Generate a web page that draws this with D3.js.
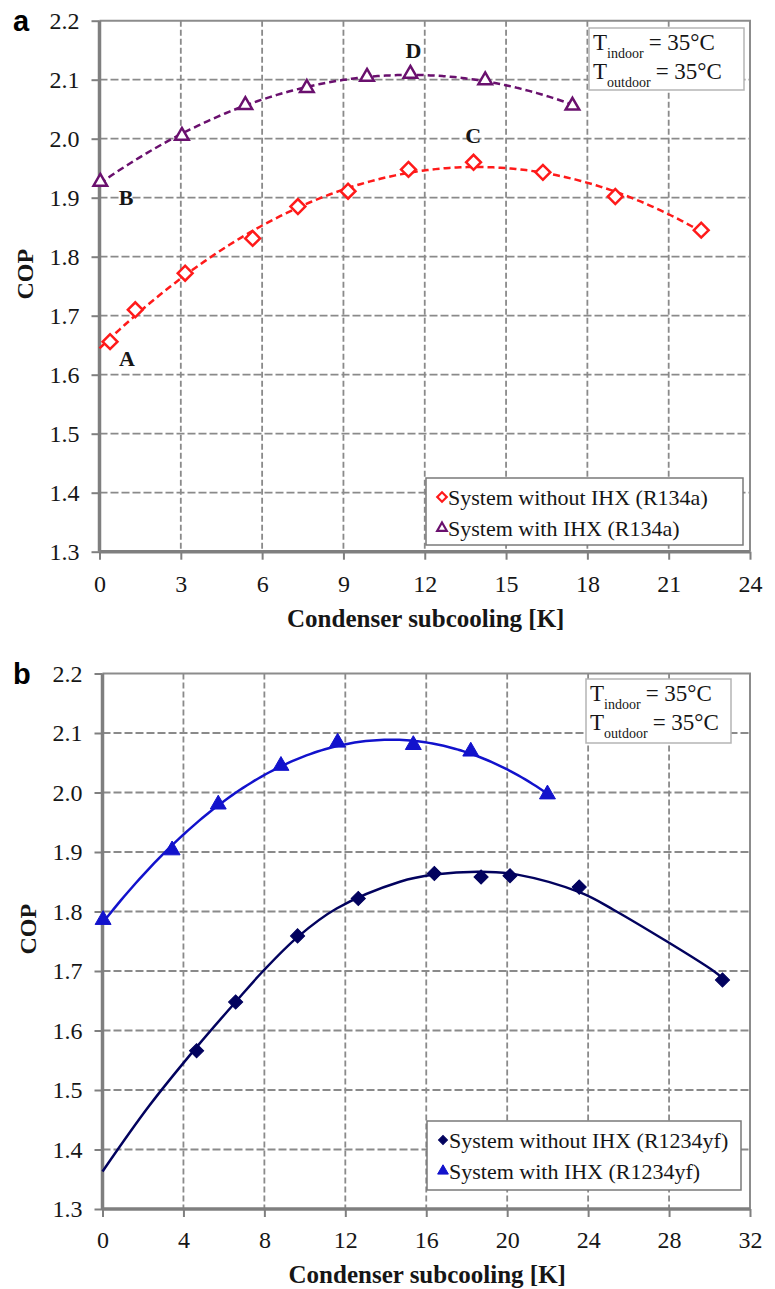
<!DOCTYPE html>
<html><head><meta charset="utf-8">
<script src="https://cdn.jsdelivr.net/npm/d3@7/dist/d3.min.js"></script>
<style>
body{margin:0;background:#fff}
svg{display:block}
</style>
</head><body>
<svg id="c" width="775" height="1289"></svg>
<script>
// ---------- data ----------
const yTicks = [1.3, 1.4, 1.5, 1.6, 1.7, 1.8, 1.9, 2.0, 2.1, 2.2];
const xTicksA = [0, 3, 6, 9, 12, 15, 18, 21, 24];
const xTicksB = [0, 4, 8, 12, 16, 20, 24, 28, 32];

// Panel a (R134a)
const aNoIhxX = [0.39, 1.32, 3.16, 5.65, 7.32, 9.17, 11.40, 13.80, 16.36, 19.03, 22.20];
const aNoIhxY = [1.656, 1.710, 1.772, 1.831, 1.885, 1.911, 1.948, 1.960, 1.943, 1.902, 1.845];
const aIhxX = [0.03, 3.04, 5.38, 7.65, 9.87, 11.47, 14.23, 17.45];
const aIhxY = [1.927, 2.005, 2.057, 2.086, 2.105, 2.110, 2.099, 2.056];

// Panel b (R1234yf)
const bNoIhxX = [4.65, 6.58, 9.64, 12.64, 16.40, 18.71, 20.14, 23.56, 30.64];
const bNoIhxY = [1.566, 1.648, 1.759, 1.822, 1.864, 1.858, 1.860, 1.841, 1.685];
const bIhxX = [0.03, 3.44, 5.72, 8.82, 11.62, 15.36, 18.20, 21.99];
const bIhxY = [1.786, 1.903, 1.980, 2.045, 2.084, 2.080, 2.069, 1.997];

// trend curve of "without IHX (R1234yf)"
const bNoIhxTrendX = [0, 2.3, 4.65, 6.58, 7.94, 9.64, 11.57, 14.7, 16.4, 18.66, 20.5, 23.6, 25.25, 30.2, 30.64];
const bNoIhxTrendY = [1.363, 1.473, 1.572, 1.648, 1.700, 1.757, 1.805, 1.850, 1.862, 1.867, 1.862, 1.832, 1.803, 1.700, 1.688];

const legendA = ["System without IHX (R134a)", "System with IHX (R134a)"];
const legendB = ["System without IHX (R1234yf)", "System with IHX (R1234yf)"];

const pointLabels = ["A", "B", "C", "D"];
const pointLabelX = [1.01, 0.98, 13.79, 11.58];
const pointLabelY = [1.628, 1.900, 2.006, 2.150];

const condSub = ["indoor", "outdoor"];
const condVal = ["35°C", "35°C"];

// ---------- helpers ----------
const SERIF = '"Liberation Serif","Times New Roman",serif';
const SANS = '"Liberation Sans",Arial,sans-serif';

function polyfit(xs, ys, order) {
  const n = order + 1;
  const A = d3.range(n).map(i => d3.range(n).map(j => d3.sum(xs, x => Math.pow(x, i + j))));
  const b = d3.range(n).map(i => d3.sum(xs, (x, k) => ys[k] * Math.pow(x, i)));
  for (let c = 0; c < n; c++) {
    let p = c;
    for (let r = c + 1; r < n; r++) if (Math.abs(A[r][c]) > Math.abs(A[p][c])) p = r;
    [A[c], A[p]] = [A[p], A[c]]; [b[c], b[p]] = [b[p], b[c]];
    for (let r = c + 1; r < n; r++) {
      const f = A[r][c] / A[c][c];
      for (let k = c; k < n; k++) A[r][k] -= f * A[c][k];
      b[r] -= f * b[c];
    }
  }
  const coef = new Array(n).fill(0);
  for (let r = n - 1; r >= 0; r--) {
    let s = b[r];
    for (let k = r + 1; k < n; k++) s -= A[r][k] * coef[k];
    coef[r] = s / A[r][r];
  }
  return x => coef.reduce((acc, c, i) => acc + c * Math.pow(x, i), 0);
}

const svg = d3.select("#c").style("font-family", SERIF);
const gridColor = "#8a8a8a";
const axisColor = "#7f7f7f";
const ink = "#161616";

function drawPanel(cfg) {
  const g = svg.append("g");
  const x = d3.scaleLinear().domain([cfg.xTicks[0], cfg.xTicks[cfg.xTicks.length - 1]]).range([cfg.left, cfg.right]);
  const y = d3.scaleLinear().domain([1.3, 2.2]).range([cfg.bottom, cfg.top]);

  // grid
  g.append("g").selectAll("line").data(cfg.xTicks.slice(1, -1)).join("line")
    .attr("x1", d => x(d)).attr("x2", d => x(d)).attr("y1", cfg.top).attr("y2", cfg.bottom)
    .attr("stroke", gridColor).attr("stroke-width", 1.8).attr("stroke-dasharray", "6,3");
  g.append("g").selectAll("line").data(yTicks.slice(1, -1)).join("line")
    .attr("x1", cfg.left).attr("x2", cfg.right).attr("y1", d => y(d)).attr("y2", d => y(d))
    .attr("stroke", gridColor).attr("stroke-width", 1.8).attr("stroke-dasharray", "8,3");
  // top & right border
  g.append("path")
    .attr("d", `M${cfg.left},${y(2.2)}H${cfg.right}V${cfg.bottom}`)
    .attr("fill", "none").attr("stroke", "#8c8c8c").attr("stroke-width", 2);

  // axes
  const ax = g.append("g").attr("transform", `translate(0,${cfg.bottom})`)
    .call(d3.axisBottom(x).tickValues(cfg.xTicks).tickFormat(d3.format("d")).tickSize(8).tickPadding(cfg.xPad));
  const ay = g.append("g").attr("transform", `translate(${cfg.left},0)`)
    .call(d3.axisLeft(y).tickValues(yTicks).tickFormat(d3.format(".1f")).tickSize(8).tickPadding(12));
  [ax, ay].forEach(a => {
    a.attr("font-family", null).attr("font-size", null);
    a.select(".domain").attr("stroke", axisColor).attr("stroke-width", 3.5);
    a.selectAll(".tick line").attr("stroke", axisColor).attr("stroke-width", 2);
    a.selectAll(".tick text").attr("fill", ink)
      .style("font-family", SERIF).style("font-size", "24px");
  });
  ax.select(".domain").attr("d", `M${cfg.left},0H${cfg.right}`);
  ay.select(".domain").attr("d", `M0,${cfg.bottom}V${cfg.top}`);

  // axis titles
  g.append("text").attr("x", (cfg.left + cfg.right) / 2 + 1).attr("y", cfg.bottom + cfg.titleOff)
    .attr("text-anchor", "middle").attr("fill", ink)
    .style("font-size", "25px").style("font-weight", "bold")
    .text("Condenser subcooling [K]");
  g.append("text").attr("transform", `translate(${cfg.left - 67},${(cfg.top + cfg.bottom) / 2 - 12}) rotate(-90)`)
    .attr("text-anchor", "middle").attr("fill", ink)
    .style("font-size", "24px").style("font-weight", "bold").text("COP");
  // panel letter
  g.append("text").attr("x", 13).attr("y", cfg.top + 10)
    .style("font-family", SANS).style("font-size", "29px").style("font-weight", "bold")
    .attr("fill", "#000").text(cfg.letter);

  // series
  cfg.series.forEach(s => {
    let pts;
    if (s.trendX) {
      pts = s.trendX.map((d, i) => [d, s.trendY[i]]);
    } else {
      const f = polyfit(s.xs, s.ys, s.order);
      const x1 = d3.max(s.xs);
      pts = d3.range(0, 121).map(i => x1 * i / 120).map(d => [d, f(d)]);
    }
    g.append("path").datum(pts)
      .attr("d", d3.line().x(d => x(d[0])).y(d => y(d[1])).curve(d3.curveCatmullRom))
      .attr("fill", "none").attr("stroke", s.color).attr("stroke-width", 2.5)
      .attr("stroke-dasharray", s.dash || null);
    g.append("g").selectAll("path").data(s.xs.map((d, i) => [d, s.ys[i]])).join("path")
      .attr("transform", d => `translate(${x(d[0])},${y(d[1])})` + (s.shape === "diamond" ? " rotate(45)" : ""))
      .attr("d", d3.symbol(s.shape === "diamond" ? d3.symbolSquare : d3.symbolTriangle, s.size))
      .attr("fill", s.filled ? s.color : "#fff")
      .attr("stroke", s.color).attr("stroke-width", s.filled ? 1 : 2.5);
  });

  // point labels
  if (cfg.labels) {
    g.append("g").selectAll("text").data(cfg.labels).join("text")
      .attr("x", d => x(d.x)).attr("y", d => y(d.y)).attr("dy", "0.35em")
      .attr("text-anchor", "middle").attr("fill", ink)
      .style("font-size", "22px").style("font-weight", "bold").text(d => d.t);
  }

  // conditions box
  const b = cfg.box;
  const bg = g.append("g");
  bg.append("rect").attr("x", b.x).attr("y", b.y).attr("width", b.w).attr("height", b.h)
    .attr("fill", "#fff").attr("stroke", "#b5b5b5").attr("stroke-width", 1.5);
  condSub.forEach((sub, i) => {
    const t = bg.append("text").attr("x", b.x + 4).attr("y", b.y + 22 + i * 29)
      .attr("fill", ink).style("font-size", "23px");
    t.append("tspan").text("T");
    t.append("tspan").style("font-size", "14px").attr("dy", 8).text(sub);
    t.append("tspan").attr("dy", -8).attr("dx", 5).text("= " + condVal[i]);
  });

  // legend
  const L = cfg.legend;
  const lg = g.append("g");
  lg.append("rect").attr("x", L.x).attr("y", L.y).attr("width", L.w).attr("height", L.h)
    .attr("fill", "#fff").attr("stroke", "#7a7a7a").attr("stroke-width", 1.5);
  cfg.series.forEach((s, i) => {
    const cy = L.y + 19 + i * 31;
    lg.append("path")
      .attr("transform", `translate(${L.x + 16},${cy})` + (s.shape === "diamond" ? " rotate(45)" : ""))
      .attr("d", d3.symbol(s.shape === "diamond" ? d3.symbolSquare : d3.symbolTriangle, s.legSize))
      .attr("fill", s.filled ? s.color : "#fff").attr("stroke", s.color).attr("stroke-width", s.filled ? 1 : 2.2);
    lg.append("text").attr("x", L.x + 22).attr("y", cy).attr("dy", "0.35em").attr("fill", ink)
      .style("font-size", "22px")
      .text(cfg.legendText[i]);
  });
}

drawPanel({
  letter: "a", left: 99.5, right: 750, top: 20.7, bottom: 551.7, xTicks: xTicksA, xPad: 15, titleOff: 75,
  labels: pointLabels.map((t, i) => ({t, x: pointLabelX[i], y: pointLabelY[i]})),
  box: {x: 589, y: 28, w: 155, h: 62},
  legend: {x: 426, y: 478, w: 317, h: 67},
  legendText: legendA,
  series: [
    {xs: aNoIhxX, ys: aNoIhxY, order: 2, color: "#ff1a1a", dash: "7,4", shape: "diamond", filled: false, size: 110, legSize: 45},
    {xs: aIhxX, ys: aIhxY, order: 2, color: "#6a106e", dash: "7,4", shape: "triangle", filled: false, size: 80, legSize: 40}
  ]
});

drawPanel({
  letter: "b", left: 102.5, right: 750, top: 673.5, bottom: 1209, xTicks: xTicksB, xPad: 14, titleOff: 74,
  labels: null,
  box: {x: 586, y: 679, w: 145, h: 64},
  legend: {x: 427, y: 1121, w: 314, h: 69},
  legendText: legendB,
  series: [
    {xs: bNoIhxX, ys: bNoIhxY, trendX: bNoIhxTrendX, trendY: bNoIhxTrendY, color: "#02025e", shape: "diamond", filled: true, size: 100, legSize: 40},
    {xs: bIhxX, ys: bIhxY, order: 2, color: "#1212cc", shape: "triangle", filled: true, size: 110, legSize: 50}
  ]
});
</script>
</body></html>
